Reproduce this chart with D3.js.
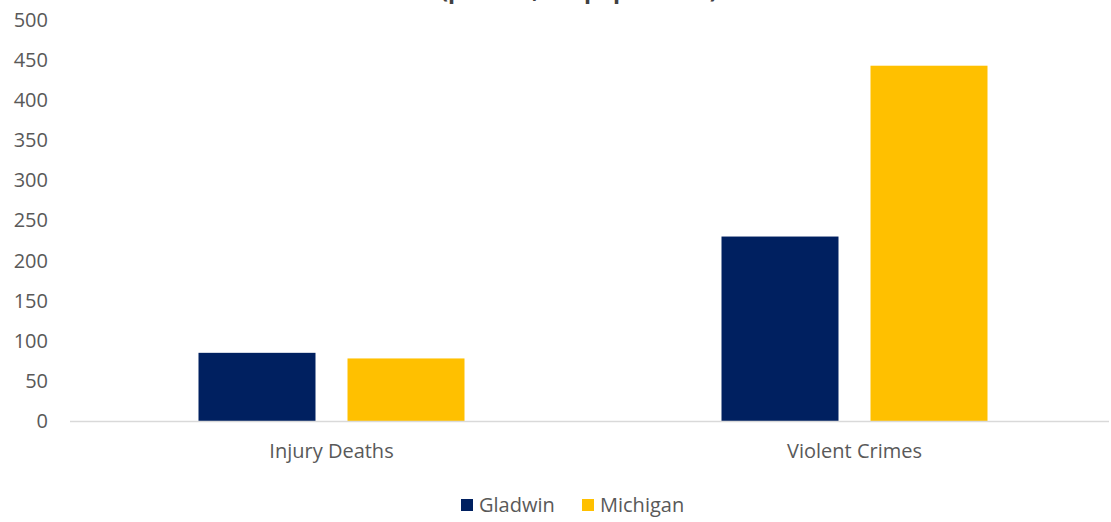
<!DOCTYPE html>
<html>
<head>
<meta charset="utf-8">
<script src="https://cdn.jsdelivr.net/npm/d3@7"></script>
<style>
  html, body { margin: 0; padding: 0; background: #fff; }
  svg { display: block; }
  text { font-family: "Open Sans", "Liberation Sans", "DejaVu Sans", sans-serif; }
</style>
</head>
<body>
<svg id="chart" width="1111" height="522"></svg>
<script>
// Rates per 100,000 population
const categories = ["Injury Deaths", "Violent Crimes"];
const seriesNames = ["Gladwin", "Michigan"];
const gladwinValues = [85, 230];
const michiganValues = [78, 443];
const yTicks = [0, 50, 100, 150, 200, 250, 300, 350, 400, 450, 500];
const titleLine = "(per 100,000 population)";

const colors = { Gladwin: "#002060", Michigan: "#FFC000" };
const valuesBySeries = { Gladwin: gladwinValues, Michigan: michiganValues };

const svg = d3.select("#chart");
const plot = { left: 70, right: 1116, top: 20, bottom: 421 };

const y = d3.scaleLinear().domain([0, 500]).range([plot.bottom, plot.top]);

const x0 = d3.scaleBand()
  .domain(categories)
  .range([plot.left, plot.right])
  .paddingInner(0.4914)
  .paddingOuter(0.2457);

const x1 = d3.scaleBand()
  .domain(seriesNames)
  .range([0, x0.bandwidth()])
  .paddingInner(0.2148)
  .paddingOuter(0);

// Title (second line sits at the very top edge)
svg.append("text")
  .attr("x", 579)
  .attr("y", -2)
  .attr("text-anchor", "middle")
  .attr("font-size", 23)
  .attr("font-weight", "bold")
  .attr("fill", "#404040")
  .text(titleLine);

// Y axis labels
const yAxis = d3.axisLeft(y).tickValues(yTicks).tickSize(0).tickPadding(0);
const yg = svg.append("g")
  .attr("transform", `translate(48,0)`)
  .call(yAxis);
yg.select(".domain").remove();
yg.selectAll("text")
  .attr("font-size", 20)
  .attr("fill", "#595959")
  .attr("font-family", null);

// Bars
const groups = svg.append("g").selectAll("g")
  .data(categories)
  .join("g")
  .attr("transform", d => `translate(${x0(d)},0)`);

groups.selectAll("rect")
  .data((c, i) => seriesNames.map(s => ({ s, v: valuesBySeries[s][i] })))
  .join("rect")
  .attr("x", d => x1(d.s))
  .attr("y", d => y(d.v))
  .attr("width", x1.bandwidth())
  .attr("height", d => y(0) - y(d.v))
  .attr("fill", d => colors[d.s]);

// Baseline
svg.append("line")
  .attr("x1", plot.left).attr("x2", 1109)
  .attr("y1", y(0) + 0.5).attr("y2", y(0) + 0.5)
  .attr("stroke", "#D9D9D9")
  .attr("stroke-width", 1.5);

// Category labels
const xAxis = d3.axisBottom(x0).tickSize(0).tickPadding(0);
const xg = svg.append("g")
  .attr("transform", `translate(0,${y(0) + 23})`)
  .call(xAxis);
xg.select(".domain").remove();
xg.selectAll("text")
  .attr("font-size", 20)
  .attr("fill", "#595959")
  .attr("font-family", null);

// Legend
const legendItems = [
  { name: "Gladwin", x: 461 },
  { name: "Michigan", x: 582 }
];
const lg = svg.append("g");
lg.selectAll("rect")
  .data(legendItems)
  .join("rect")
  .attr("x", d => d.x)
  .attr("y", 499)
  .attr("width", 12)
  .attr("height", 12)
  .attr("fill", d => colors[d.name]);
lg.selectAll("text")
  .data(legendItems)
  .join("text")
  .attr("x", d => d.x + 18)
  .attr("y", 505)
  .attr("dy", "0.35em")
  .attr("font-size", 20)
  .attr("fill", "#595959")
  .text(d => d.name);
</script>
</body>
</html>
